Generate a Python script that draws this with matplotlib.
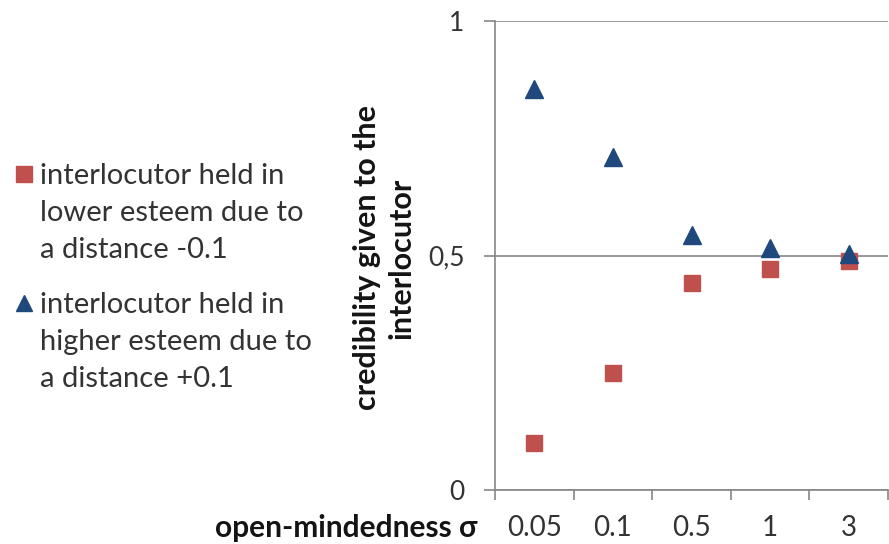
"""
Credibility given to the interlocutor vs open-mindedness sigma.
Two point series on categorical x, Excel-like styling.
"""
import numpy as np
import matplotlib.pyplot as plt
from matplotlib.lines import Line2D

plt.rcParams["font.family"] = ["Lato", "DejaVu Sans"]

SIGMA_LABELS = ["0.05", "0.1", "0.5", "1", "3"]
LOWER_ESTEEM = [0.100, 0.250, 0.442, 0.472, 0.489]
HIGHER_ESTEEM = [0.855, 0.709, 0.544, 0.517, 0.504]
LEGEND_LABELS = ["interlocutor held in\nlower esteem due to\na distance -0.1",
                 "interlocutor held in\nhigher esteem due to\na distance +0.1"]

RED = "#C0504D"
BLUE = "#1F497D"
GRAY = "#868686"
TEXT = "#333333"
DARK = "#141414"


def plot_credibility():
    fig = plt.figure(figsize=(8.89, 5.44), dpi=100)
    ax = fig.add_axes([495 / 889, 1 - 490 / 544, 393 / 889, 469 / 544])
    x = np.arange(len(SIGMA_LABELS))

    ax.plot(x, LOWER_ESTEEM, ls="none", marker="s", ms=11, color=RED, zorder=3)
    ax.plot(x, HIGHER_ESTEEM, ls="none", marker="^", ms=13, color=BLUE, zorder=3)

    ax.set_xlim(-0.5, len(SIGMA_LABELS) - 0.5)
    ax.set_ylim(0, 1)
    ax.set_yticks([0, 0.5, 1])
    ax.set_yticklabels(["0", "0,5", "1"], fontsize=19, color=TEXT)
    ax.set_xticks(x)
    ax.set_xticklabels(SIGMA_LABELS, fontsize=20, color=TEXT)
    ax.set_xticks(np.arange(len(SIGMA_LABELS) + 1) - 0.5, minor=True)
    ax.tick_params(axis="x", which="major", length=0, pad=18)
    ax.tick_params(axis="x", which="minor", length=7, color=GRAY, width=1.2)
    ax.tick_params(axis="y", length=8, color=GRAY, width=1.2, pad=14)
    ax.yaxis.grid(True, color=GRAY, lw=1.2)
    ax.set_axisbelow(True)

    for side in ["top", "right"]:
        ax.spines[side].set_visible(False)
    for side in ["left", "bottom"]:
        ax.spines[side].set_color(GRAY)
        ax.spines[side].set_linewidth(1.2)

    fig.text(384 / 889, 1 - 258 / 544, "credibility given to the\ninterlocutor",
             fontsize=22, fontweight="bold", color=DARK, rotation=90,
             ha="center", va="center", multialignment="center", linespacing=1.3)
    fig.text(477 / 889, 1 - 528 / 544, "open-mindedness σ", fontsize=21.5,
             fontweight="bold", color=DARK, ha="right", va="center")

    # hand-made legend, markers aligned to the first line of each entry
    for i, (lab, mk, col) in enumerate(zip(LEGEND_LABELS, ["s", "^"], [RED, BLUE])):
        top = 1 - (163 + i * 129) / 544
        fig.text(40 / 889, top, lab, fontsize=21, color=TEXT, va="top",
                 ha="left", linespacing=1.52)
        fig.add_artist(Line2D([24 / 889], [top - 11 / 544], marker=mk, ms=11,
                              color=col, ls="none", transform=fig.transFigure))

    fig.savefig("out.png", dpi=100)
    plt.close(fig)


if __name__ == "__main__":
    plot_credibility()
